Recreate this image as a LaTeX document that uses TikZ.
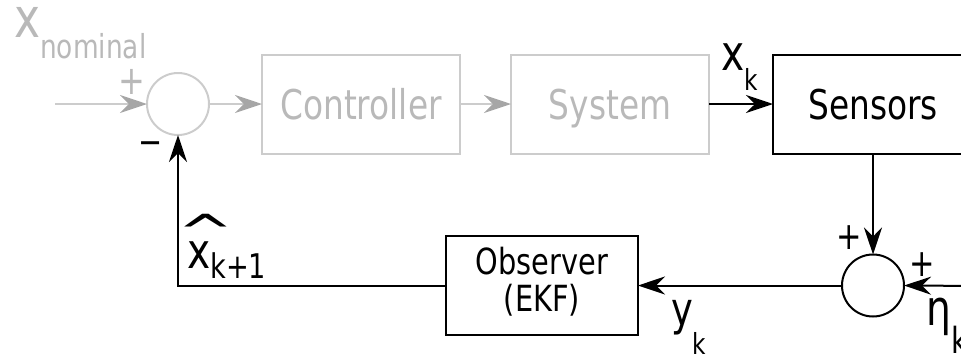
\documentclass[tikz,border=0pt]{standalone}
\usepackage{graphicx}
\usepackage{fontspec}
\setmainfont{DejaVu Sans}[FakeStretch=0.8]
\usetikzlibrary{arrows.meta, positioning}

% font size in pt
\newcommand{\fs}[1]{\fontsize{#1}{#1}\selectfont}
% signal name with a lowered index: main, index, main size, index size, drop
\newcommand{\sublbl}[5]{{\fs{#3}#1}\raisebox{-#5pt}{\fs{#4}#2}}
% wide hat over a letter
\newcommand{\widecaret}[1]{\rlap{\kern-10pt\raisebox{19.5pt}{\scalebox{1.8}[1]{\fs{47}\textasciicircum}}}#1}

\begin{document}
\begin{tikzpicture}[
    x=1pt, y=-1pt,
    % --- Node styles ---
    block/.style = {rectangle, draw=black, line width=2pt, outer sep=0pt,
        minimum width=198pt, minimum height=99pt, inner sep=0pt, font=\fs{41},
        text height=30pt, text depth=0pt},
    greyblock/.style = {block, draw=gray!40, text=gray!55},
    sumpoint/.style = {circle, draw=black, line width=2pt, outer sep=0pt,
        minimum size=62pt, inner sep=0pt},
    greysum/.style = {sumpoint, draw=gray!40},
    sign/.style = {inner sep=0pt, font=\fs{#1}},
    signal/.style = {inner sep=0pt, anchor=base west},
    % --- Arrow styles ---
    arrow/.style = {line width=2pt, -{Stealth[length=27pt, width=18pt, inset=9pt]}},
    greyarrow/.style = {arrow, draw=gray!40,
        -{Stealth[length=27pt, width=18pt, inset=9pt, color=gray!70]}}
]
\useasboundingbox (0,0) rectangle (961,354);
\clip (0,0) rectangle (961,354);

% ==================== FORWARD PATH ====================
\coordinate (ref) at (55,104);
\node[greysum] (sum1) at (178,104) {};
\node[greyblock, right=53pt of sum1] (ctrl) {Controller};
\node[greyblock, right=51pt of ctrl] (sys) {System};
\node[block, minimum width=200pt, right=64pt of sys] (sens) {Sensors};

% ==================== MEASUREMENT / OBSERVER ====================
\node[sumpoint, below=101pt of sens] (sum2) {};
\coordinate (noise) at (985,286);
\node[block, minimum width=192pt, text height=0pt, text depth=0pt,
    left=204pt of sum2] (obs)
    {\fontsize{36}{33}\selectfont\raisebox{11pt}{\begin{tabular}[t]{@{}c@{}}Observer\\(EKF)\end{tabular}}};

% ==================== SIGNS ====================
\node[sign=40, text=gray!55] (p1) at (132,82) {+};
\node[sign=36] (m1) at (151,148) {−};
\node[sign=38] (p2) at (849,238) {+};
\node[sign=38] (p3) at (922,265) {+};

% ==================== SIGNAL NAMES ====================
\node[signal, text=gray!55] (xnom) at (14,37) {\sublbl{x}{nominal}{55}{33}{21}};
\node[signal] (xk) at (721,70) {\sublbl{x}{k}{49}{29}{20}};
\node[signal] (xhat) at (187,268) {\sublbl{\widecaret{x}}{k+1}{49}{34}{10}};
\node[signal] (yk) at (671,325) {\sublbl{y}{k}{46}{29}{29}};
\node[signal] (eta) at (926,325) {\sublbl{η}{k}{49}{36}{28}};

% ==================== ARROWS ====================
\draw[greyarrow] (ref) -- (sum1.west);
\draw[greyarrow] (sum1) -- (ctrl);
\draw[greyarrow] (ctrl) -- (sys);
\draw[arrow] (sys) -- (sens);
\draw[arrow] (sens.south) -- (sum2.north);
\draw[arrow] (noise) -- (sum2.east);
\draw[arrow] (sum2) -- (obs);

% Feedback of the estimate
\draw[arrow] (obs.west) -- (sum1 |- obs.west) -- (sum1.south);

\end{tikzpicture}
\end{document}
